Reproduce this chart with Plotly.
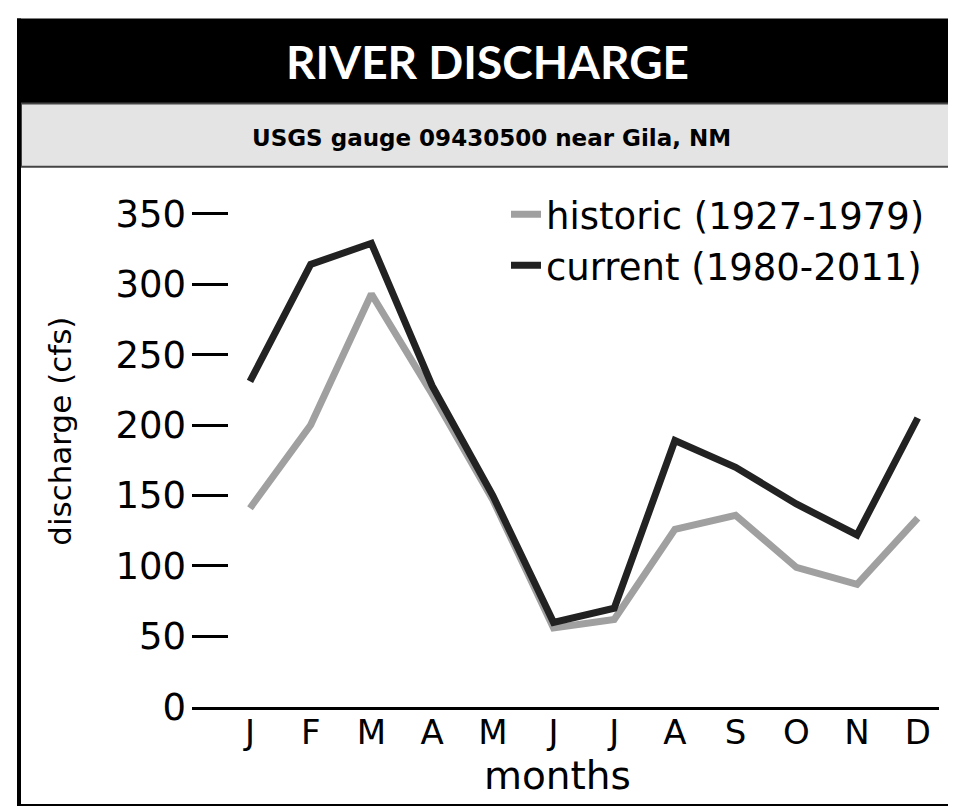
import plotly.graph_objects as go

months = ["J", "F", "M", "A", "M", "J", "J", "A", "S", "O", "N", "D"]
historic = [141, 200, 293, 222, 147, 56, 62, 126, 136, 99, 87, 134]
current = [231, 314, 329, 228, 150, 60, 70, 189, 170, 144, 122, 205]
y_ticks = [0, 50, 100, 150, 200, 250, 300, 350]

W, H = 940, 822
FONT = "DejaVu Sans"

# layout helpers: convert target picture pixels to paper fractions
def tx(x):
    return (x - 8) / W

def ty(t):
    return 1 - ((t - 6.7) / 0.9655 - 8) / H

xpos = list(range(len(months)))

fig = go.Figure()
fig.add_trace(go.Scatter(x=xpos, y=historic, mode="lines", name="historic (1927-1979)",
                         line=dict(color="#a0a0a0", width=7)))
fig.add_trace(go.Scatter(x=xpos, y=current, mode="lines", name="current (1980-2011)",
                         line=dict(color="#222222", width=7)))

shapes = [
    dict(type="rect", xref="paper", yref="paper", x0=tx(17), x1=1.05, y0=ty(104), y1=ty(19),
         fillcolor="black", line=dict(width=0), layer="below"),
    dict(type="rect", xref="paper", yref="paper", x0=tx(21), x1=1.05, y0=ty(167), y1=ty(104),
         fillcolor="#e4e4e4", line=dict(color="#444444", width=2), layer="below"),
    dict(type="line", xref="paper", yref="paper", x0=tx(19), x1=tx(19), y0=ty(806), y1=ty(19),
         line=dict(color="black", width=4)),
    dict(type="line", xref="paper", yref="paper", x0=tx(17), x1=1.05, y0=ty(805), y1=ty(805),
         line=dict(color="black", width=2)),
]

annotations = [
    dict(text="<b>RIVER DISCHARGE</b>", xref="paper", yref="paper", x=tx(488), y=ty(62),
         showarrow=False, font=dict(family="Lato", size=46, color="white"),
         xanchor="center", yanchor="middle"),
    dict(text="<b>USGS gauge 09430500 near Gila, NM</b>", xref="paper", yref="paper",
         x=tx(491), y=ty(138), showarrow=False,
         font=dict(family=FONT, size=23, color="black"), xanchor="center", yanchor="middle"),
    dict(text="discharge (cfs)", xref="paper", yref="paper", x=tx(60), y=ty(432),
         showarrow=False, textangle=-90, font=dict(family=FONT, size=31, color="black"),
         xanchor="center", yanchor="middle"),
    dict(text="months", xref="paper", yref="paper", x=tx(557), y=ty(776),
         showarrow=False, font=dict(family=FONT, size=39, color="black"),
         xanchor="center", yanchor="middle"),
]

fig.update_layout(
    width=W, height=H,
    margin=dict(l=0, r=0, t=0, b=0),
    paper_bgcolor="white", plot_bgcolor="white",
    font=dict(family=FONT, color="black"),
    shapes=shapes, annotations=annotations,
    showlegend=True,
    legend=dict(x=tx(506), y=ty(184), xanchor="left", yanchor="top",
                font=dict(family=FONT, size=37, color="black"),
                bgcolor="rgba(0,0,0,0)"),
    xaxis=dict(domain=[tx(192), tx(939)], range=[-0.955, 11.35],
               tickmode="array", tickvals=xpos, ticktext=months,
               showgrid=False, zeroline=False, showline=True, linecolor="black", linewidth=3,
               ticks="", ticklabelstandoff=-7,
               tickfont=dict(family=FONT, size=34, color="black")),
    yaxis=dict(domain=[ty(707), ty(707 - 360 * 493 / 350)], range=[0, 360],
               tickmode="array", tickvals=y_ticks,
               showgrid=False, zeroline=False, showline=False,
               ticks="inside", ticklen=36, tickwidth=3, tickcolor="black",
               ticklabelstandoff=5,
               tickfont=dict(family=FONT, size=37, color="black")),
)

fig.write_html("out.html")
